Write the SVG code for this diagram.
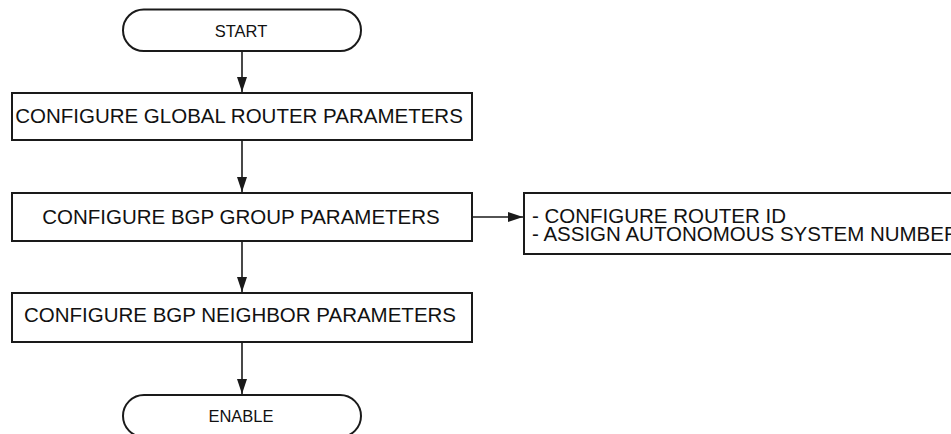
<svg xmlns="http://www.w3.org/2000/svg" width="951" height="434" viewBox="0 0 951 434">
<style>
.box{fill:#fff;stroke:#1a1a1a;stroke-width:2}
.t{font-family:"Liberation Sans",Arial,sans-serif;font-size:20.5px;fill:#111}
.ts{font-family:"Liberation Sans",Arial,sans-serif;font-size:16.5px;fill:#111}
.c{text-anchor:middle}
.edge{stroke:#1a1a1a;stroke-width:1.6;fill:none;marker-end:url(#ah)}
</style>
<defs>
<marker id="ah" markerWidth="15" markerHeight="10" refX="15" refY="5" orient="auto" markerUnits="userSpaceOnUse">
<path d="M0,0 L15,5 L0,10 Z" fill="#1a1a1a"/>
</marker>
</defs>
<rect width="951" height="434" fill="#fff"/>
<g id="start">
<rect class="box" x="123" y="9.5" width="238" height="41.5" rx="20.75" ry="20.75"/>
<text class="ts c" x="241" y="36.5">START</text>
</g>
<g id="global">
<rect class="box" x="12" y="93" width="460" height="47"/>
<text class="t c" x="239" y="123">CONFIGURE GLOBAL ROUTER PARAMETERS</text>
</g>
<g id="group">
<rect class="box" x="12" y="193" width="460" height="48"/>
<text class="t c" x="241" y="223.5">CONFIGURE BGP GROUP PARAMETERS</text>
</g>
<g id="note">
<rect class="box" x="524" y="193" width="440" height="61"/>
<text class="t" x="532" y="222.5">- CONFIGURE ROUTER ID</text>
<text class="t" x="532" y="241">- ASSIGN AUTONOMOUS SYSTEM NUMBER</text>
</g>
<g id="neighbor">
<rect class="box" x="12" y="293" width="460" height="49"/>
<text class="t c" x="240" y="322">CONFIGURE BGP NEIGHBOR PARAMETERS</text>
</g>
<g id="enable">
<rect class="box" x="123" y="395" width="238" height="42" rx="21" ry="21"/>
<text class="ts c" x="241" y="422">ENABLE</text>
</g>
<g id="connectors">
<line class="edge" x1="242" y1="51" x2="242" y2="92"/>
<line class="edge" x1="242" y1="140" x2="242" y2="192"/>
<line class="edge" x1="242" y1="241" x2="242" y2="292"/>
<line class="edge" x1="242" y1="342" x2="242" y2="394"/>
<line class="edge" x1="472" y1="217" x2="523" y2="217"/>
</g>
</svg>
